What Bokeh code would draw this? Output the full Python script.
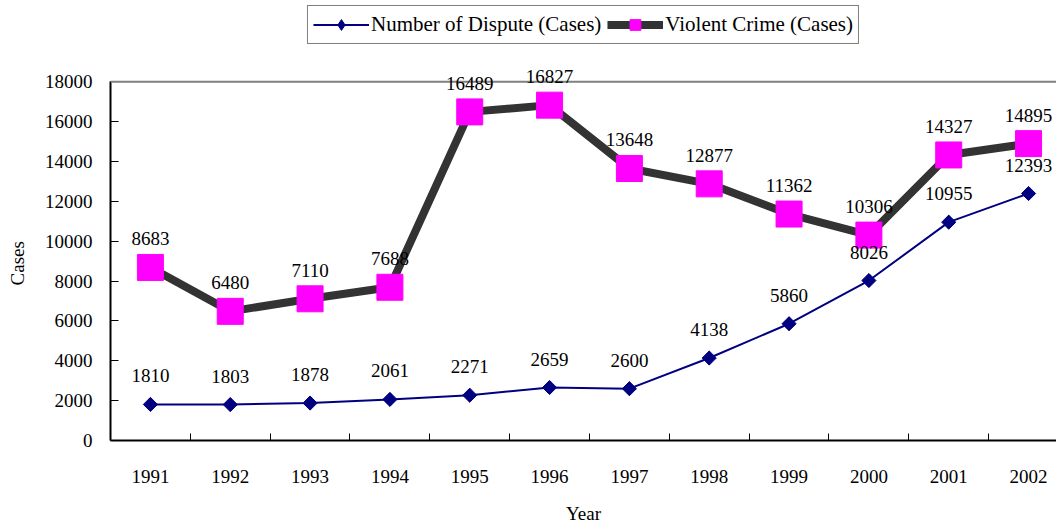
import math
from bokeh.plotting import figure
from bokeh.models import ColumnDataSource, Range1d, FixedTicker, LabelSet, Legend, LegendItem, Span
from bokeh.embed import file_html
from bokeh.resources import INLINE

years = ["1991", "1992", "1993", "1994", "1995", "1996", "1997", "1998", "1999", "2000", "2001", "2002"]
dispute = [1810, 1803, 1878, 2061, 2271, 2659, 2600, 4138, 5860, 8026, 10955, 12393]
violent = [8683, 6480, 7110, 7688, 16489, 16827, 13648, 12877, 11362, 10306, 14327, 14895]
y_ticks = [0, 2000, 4000, 6000, 8000, 10000, 12000, 14000, 16000, 18000]

FONT = "Liberation Serif"
xs = list(range(len(years)))
Y_MAX = 18000
# frame spans full height above the axis; 18000 sits 82px below the top
Y_TOP = Y_MAX * 444 / 362

src = ColumnDataSource(dict(
    x=xs, dispute=dispute, violent=violent,
    dlab=[str(v) for v in dispute], vlab=[str(v) for v in violent],
))

p = figure(width=1056, height=526, output_backend="svg", toolbar_location=None,
           x_range=Range1d(-0.5, 11.35), y_range=Range1d(0, Y_TOP),
           min_border_left=110, min_border_right=0, min_border_top=0, min_border_bottom=82)
p.outline_line_color = None
p.grid.visible = False
p.background_fill_color = "white"
p.border_fill_color = "white"

# top border of the plot box
p.add_layout(Span(location=Y_MAX, dimension="width", line_color="#808080", line_width=2))

l_v = p.line("x", "violent", source=src, line_color="#333333", line_width=8)
s_v = p.scatter("x", "violent", source=src, marker="square", size=26,
                fill_color="#FF00FF", line_color="#FF00FF")
l_d = p.line("x", "dispute", source=src, line_color="#000080", line_width=2)
# diamond (hidden under the rotated squares; used for the legend glyph)
d_leg = p.scatter("x", "dispute", source=src, marker="diamond", size=13,
                  fill_color="#000080", line_color="#000080")
s_d = p.scatter("x", "dispute", source=src, marker="square", angle=math.pi / 4, size=10,
                fill_color="#000080", line_color="#000080")

for col, ycol in [("dlab", "dispute"), ("vlab", "violent")]:
    p.add_layout(LabelSet(x="x", y=ycol, text=col, source=src, text_align="center",
                          text_baseline="alphabetic", y_offset=22, text_font=FONT,
                          text_font_size="19px", text_color="black"))

# axes
xa = p.xaxis[0]
xa.ticker = FixedTicker(ticks=xs, minor_ticks=[i + 0.5 for i in xs])
xa.major_label_overrides = {i: y for i, y in zip(xs, years)}
xa.major_tick_in = 0
xa.major_tick_out = 0
xa.minor_tick_in = 7
xa.minor_tick_out = 0
xa.minor_tick_line_color = "black"
xa.axis_line_color = "black"
xa.axis_line_width = 2
xa.major_label_text_font = FONT
xa.major_label_text_font_size = "19px"
xa.major_label_text_color = "black"
xa.major_label_standoff = 29
xa.axis_label = "Year"
xa.axis_label_text_font = FONT
xa.axis_label_text_font_size = "19px"
xa.axis_label_text_font_style = "normal"
xa.axis_label_text_color = "black"
xa.axis_label_standoff = 17

ya = p.yaxis[0]
ya.ticker = FixedTicker(ticks=y_ticks, minor_ticks=[])
ya.bounds = (0, Y_MAX)
ya.major_tick_in = 8
ya.major_tick_out = 0
ya.major_tick_line_color = "black"
ya.axis_line_color = "black"
ya.axis_line_width = 2
ya.major_label_text_font = FONT
ya.major_label_text_font_size = "19px"
ya.major_label_text_color = "black"
ya.major_label_standoff = 18
# trailing no-break spaces shift the rotated label down to the middle of 0..18000
ya.axis_label = "Cases" + "\u00a0" * 18
ya.axis_label_text_font = FONT
ya.axis_label_text_font_size = "19px"
ya.axis_label_text_font_style = "normal"
ya.axis_label_text_color = "black"
ya.axis_label_standoff = 14

legend = Legend(items=[
    LegendItem(label="Number of Dispute (Cases)", renderers=[l_d, d_leg]),
    LegendItem(label="Violent Crime (Cases)", renderers=[l_v, s_v]),
], orientation="horizontal", location="top_center")
legend.border_line_color = "black"
legend.border_line_width = 1
legend.background_fill_color = "white"
legend.background_fill_alpha = 1
legend.label_text_font = FONT
legend.label_text_font_size = "21px"
legend.label_text_color = "black"
legend.glyph_width = 56
legend.glyph_height = 27
legend.padding = 5
legend.spacing = 6
legend.label_standoff = 2
legend.margin = 5
p.add_layout(legend)

open("out.html", "w").write(file_html(p, INLINE))
